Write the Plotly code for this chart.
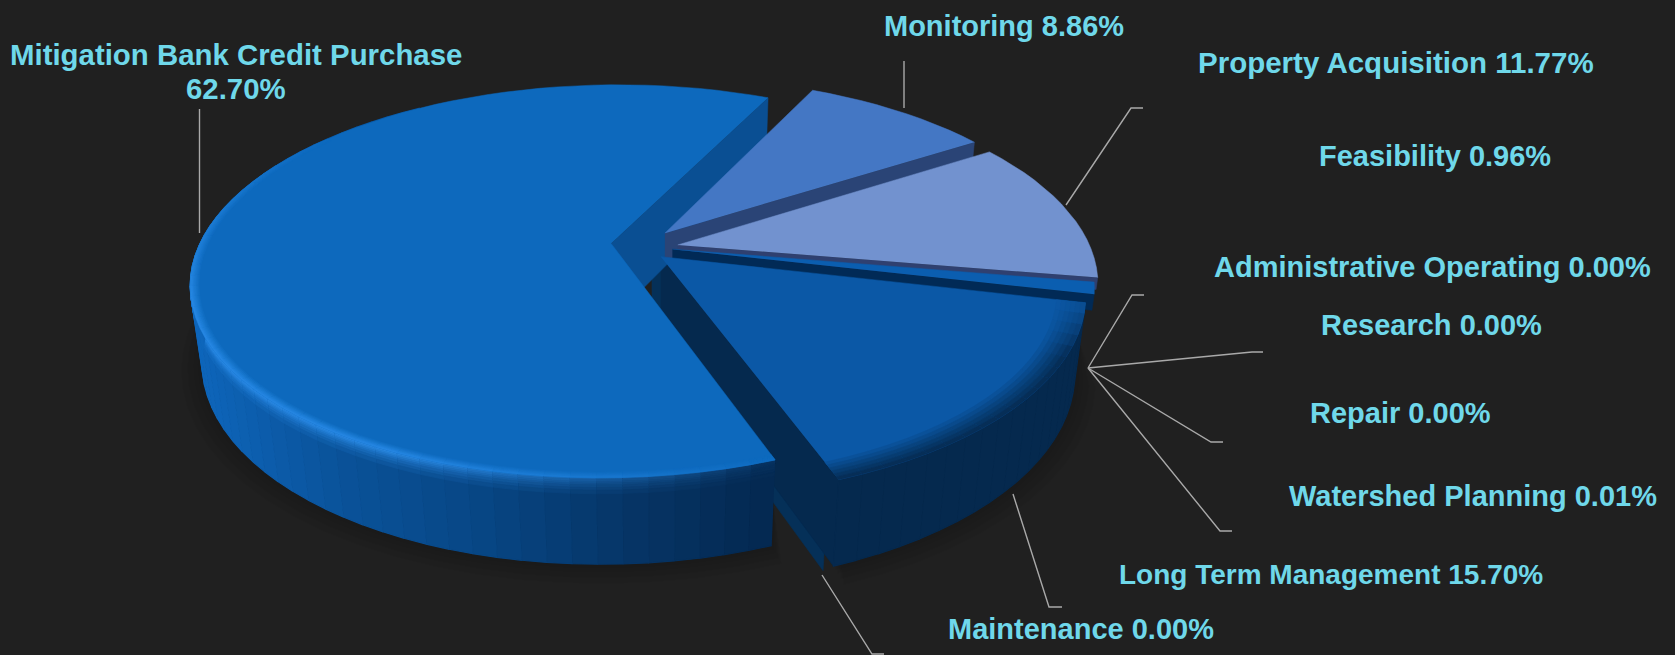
import math
import plotly.graph_objects as go

# ---------- data ----------
categories = ["Mitigation Bank Credit Purchase", "Monitoring", "Property Acquisition", "Feasibility",
              "Administrative Operating", "Research", "Repair", "Watershed Planning",
              "Long Term Management", "Maintenance"]
percents = [62.70, 8.86, 11.77, 0.96, 0.00, 0.00, 0.00, 0.01, 15.70, 0.00]
label_texts = ["Mitigation Bank Credit Purchase", "62.70%", "Monitoring 8.86%", "Property Acquisition 11.77%",
               "Feasibility 0.96%", "Administrative Operating 0.00%", "Research 0.00%", "Repair 0.00%",
               "Watershed Planning 0.01%", "Long Term Management 15.70%", "Maintenance 0.00%"]
label_x = [236, 236, 1004, 1396, 1435, 1432, 1431, 1400, 1473, 1331, 1081]
label_y = [54.5, 88.5, 26, 62, 156, 267, 325, 413, 496, 574, 629]
label_size = [29.4, 29.4, 29, 29.5, 29, 29, 29, 29, 29, 28, 29]
leader_x = [[199.5, 199.5], [904, 904], [1143, 1131, 1066], None, [1144, 1132, 1088], [1263, 1252, 1088],
            [1223, 1211, 1088], [1232, 1220, 1088], [1062, 1049, 1013], [884, 872, 822]]
leader_y = [[109, 233], [61, 108], [108, 108, 205], None, [295, 295, 368], [352, 352, 368],
            [442, 442, 368], [531, 531, 368], [607, 607, 494], [654, 654, 575]]

start_bearing = 159.6   # where the first slice starts, clockwise from the far side
top_colors = {0: "#0d69bd", 1: "#4477c4", 2: "#7292cf", 3: "#0b5eb0", 8: "#0b58a6"}
side_colors = {1: "#2a4476", 2: "#2f4070", 3: "#012a56", 8: "#05294e", 9: "#053058", 0: "#0a4f93"}
explode = {0: (-0.119, 0.024), 1: (0.012, 0.079), 2: (0.043, 0.016), 3: (0.030, -0.006),
           8: (0.002, -0.045), 9: (-0.020, -0.060)}

BG = "#202020"
LABEL = "#6fd8ea"
LEADER = "#a9a9a9"
cx, cy, a, b, k, h, m = 660.0, 248.0, 413.0, 191.0, 0.1935, 78.0, 0.025


def hex2rgb(c):
    return tuple(int(c[i:i + 2], 16) for i in (1, 3, 5))


def mix(c1, c2, t):
    t = max(0.0, min(1.0, t))
    r1, r2 = hex2rgb(c1), hex2rgb(c2)
    return "#%02x%02x%02x" % tuple(round(p + (q - p) * t) for p, q in zip(r1, r2))


def stops(t, table):
    t = max(table[0][0], min(table[-1][0], t))
    for (t0, c0), (t1, c1) in zip(table, table[1:]):
        if t <= t1:
            return mix(c0, c1, (t - t0) / (t1 - t0 or 1))
    return table[-1][1]


def proj(u, v, z=0.0):
    w = 1 + k * v + m * z
    return cx + a * u / w, cy - b * v / w + h * z / w


def pt(i, bearing, r=1.0, z=0.0):
    ox, oy = explode[i]
    t = math.radians(bearing)
    return proj(ox + r * math.sin(t), oy + r * math.cos(t), z)


fig = go.Figure()


def poly(points, color, lw=1.0):
    fig.add_trace(go.Scatter(x=[p[0] for p in points], y=[p[1] for p in points], mode="lines", fill="toself",
                             fillcolor=color, line=dict(color=color, width=lw), hoverinfo="skip", showlegend=False))


# slice angles come from the values
spans = {}
acc = start_bearing
for i, p in enumerate(percents):
    spans[i] = (acc, acc + p * 3.6)
    acc += p * 3.6

main_wall = [(0.0, "#0e66bb"), (0.25, "#0a5299"), (0.5, "#074684"), (0.75, "#063566"), (1.0, "#042850")]
ltm_wall = [(0.0, "#05294e"), (1.0, "#05294e")]


def arc_bearings(s, e, step=3.0):
    n = max(1, int(math.ceil((e - s) / step)))
    return [s + (e - s) * j / n for j in range(n + 1)]


def shadow(i):
    s, e = spans[i]
    bs = [t for t in arc_bearings(s, e, 5.0) if 90 < t % 360 < 300]
    for d in (0.05, 0.035, 0.02, 0.01):
        pts = [pt(i, t, 1 + d, 1 + d) for t in bs] + [pt(i, t, 1, 0.5) for t in reversed(bs)]
        fig.add_trace(go.Scatter(x=[p[0] for p in pts], y=[p[1] for p in pts], mode="lines", fill="toself",
                                 fillcolor="rgba(0,0,0,0.035)", line=dict(width=0), hoverinfo="skip", showlegend=False))


def outer_wall(i, table, xref, highlight):
    s, e = spans[i]
    bs = arc_bearings(s, e)
    zs = [0.0, 0.02, 0.04, 0.06, 0.08, 0.11, 0.14, 0.18, 1.0]
    for b0, b1 in zip(bs, bs[1:]):
        mb = (b0 + b1) / 2 % 360
        if 325 < mb or mb < 95:
            continue
        xm = pt(i, mb)[0]
        wall = stops((xm - xref[0]) / (xref[1] - xref[0]), table)
        hl = highlight(mb)
        last = len(zs) - 2
        # body first so the shoulder bands sit on it
        poly([pt(i, b0, 1, 0), pt(i, b1, 1, 0), pt(i, b1, 1, 1), pt(i, b0, 1, 1)], wall, 1.2)
        if hl <= 0.01:
            continue
        for zi, (z0, z1) in enumerate(zip(zs, zs[1:])):
            if zi == last:
                break
            col = mix(wall, "#2f92f0", hl * (1 - zi / last))
            poly([pt(i, b0, 1, z0), pt(i, b1, 1, z0), pt(i, b1, 1, z1), pt(i, b0, 1, z1)], col, 0.8)


def top_face(i, rim_color=None, rim_amount=None, rim=0.05):
    s, e = spans[i]
    bs = arc_bearings(s, e)
    poly([pt(i, 0, 0)] + [pt(i, t) for t in bs], top_colors[i], 0.5)
    if rim_color is None:
        return
    rs = [1 - rim + rim * j / 6 for j in range(7)]
    for b0, b1 in zip(bs, bs[1:]):
        mb = (b0 + b1) / 2 % 360
        amt = rim_amount(mb)
        if amt <= 0.01:
            continue
        for q, (r0, r1) in enumerate(zip(rs, rs[1:])):
            col = mix(top_colors[i], rim_color, amt * (q + 1) / (len(rs) - 1))
            poly([pt(i, b0, r0), pt(i, b1, r0), pt(i, b1, r1), pt(i, b0, r1)], col, 0.6)


def radial_wall(i, bearing, color, z1=1.0):
    poly([pt(i, 0, 0, 0), pt(i, bearing, 1, 0), pt(i, bearing, 1, z1), pt(i, 0, 0, z1)], color, 0.5)


def main_hl(mb):
    if mb > 310:
        return 0.0
    if mb > 255:
        return 0.85 * (310 - mb) / 55
    if mb > 205:
        return 0.85
    return 0.1 + 0.75 * (mb - 161) / 44


def ltm_rim(mb):
    return min(1.0, max(0.0, (mb - 100) / 18)) * 0.9


# back-to-front painting
shadow(0)
shadow(8)
radial_wall(9, spans[9][0], side_colors[9])
radial_wall(8, spans[8][1], side_colors[8])
outer_wall(8, ltm_wall, (700, 1100), lambda mb: 0.0)

radial_wall(0, spans[0][1], side_colors[0])
outer_wall(0, main_wall, (190, 775), main_hl)
top_face(0, "#2f92f0", lambda mb: main_hl(mb) * 0.85, rim=0.02)

radial_wall(1, spans[1][1], side_colors[1], 0.35)
top_face(1)
radial_wall(2, spans[2][1], side_colors[2], 0.15)
top_face(2)
radial_wall(3, spans[3][1], side_colors[3], 0.2)
top_face(3)
top_face(8, "#05294e", ltm_rim, rim=0.065)

for xs, ys in zip(leader_x, leader_y):
    if xs is None:
        continue
    fig.add_trace(go.Scatter(x=xs, y=ys, mode="lines", line=dict(color=LEADER, width=1.4),
                             hoverinfo="skip", showlegend=False))

for t, x, y, s in zip(label_texts, label_x, label_y, label_size):
    fig.add_annotation(x=x, y=y, text="<b>%s</b>" % t, showarrow=False, xanchor="center", yanchor="middle",
                       align="center", font=dict(family="Liberation Sans", size=s, color=LABEL))

fig.update_layout(width=1675, height=655, margin=dict(l=0, r=0, t=0, b=0), paper_bgcolor=BG, plot_bgcolor=BG,
                  xaxis=dict(range=[0, 1675], visible=False, fixedrange=True),
                  yaxis=dict(range=[655, 0], visible=False, fixedrange=True), showlegend=False)
fig.write_html("out.html", config=dict(displayModeBar=False),
               post_script="document.body.style.margin='0';document.body.style.background='%s';" % BG)
